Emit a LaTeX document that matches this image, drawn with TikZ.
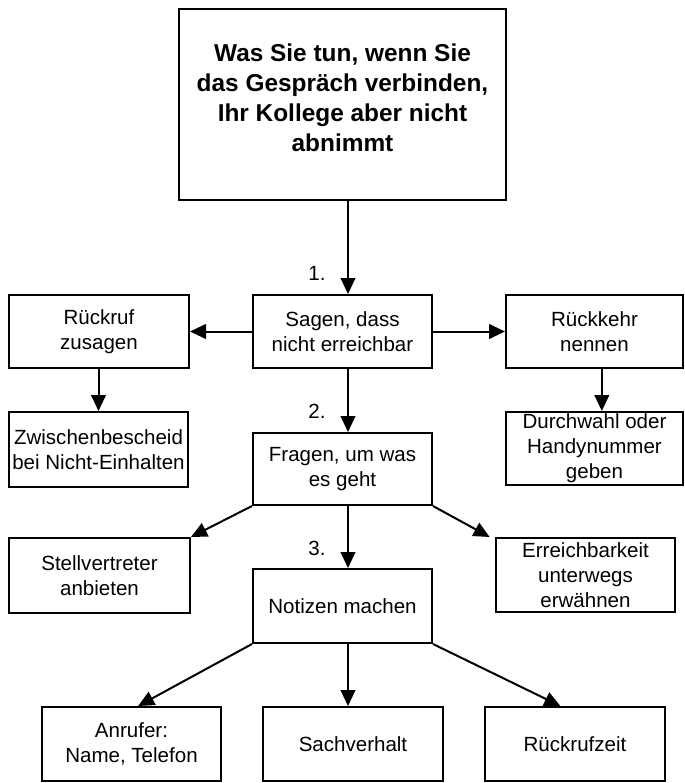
\documentclass[tikz,border=0pt]{standalone}
\usepackage{fontspec}
\setmainfont{Liberation Sans}
\usetikzlibrary{arrows.meta}
\begin{document}
\begin{tikzpicture}[x=0.75pt,y=-0.75pt,
  box/.style={draw, line width=1.5pt, rectangle, inner sep=0pt, align=center,
    font=\fontsize{15.4}{18.8}\selectfont},
  titlebox/.style={box, font=\fontsize{18.3}{22.5}\selectfont\bfseries},
  arr/.style={line width=1.5pt, -{Triangle[length=12pt,width=11pt]}},
  numlbl/.style={font=\fontsize{15.4}{18.8}\selectfont, inner sep=0pt}]
\useasboundingbox (0,0) rectangle (685,783);
\fill[white] (0,0) rectangle (685,783);

\node[titlebox, minimum width=245.25pt, minimum height=143.25pt] (top) at (342.5,104.5)
  {Was Sie tun, wenn Sie\\das Gespräch verbinden,\\Ihr Kollege aber nicht\\abnimmt\\[-12pt]\mbox{}};

\node[box, minimum width=134.25pt, minimum height=54.75pt] (sagen) at (342.5,331.5)
  {Sagen, dass\\nicht erreichbar};
\node[box, minimum width=135pt, minimum height=54.75pt] (rueckruf) at (99,331.5)
  {Rückruf\\zusagen};
\node[box, minimum width=132.75pt, minimum height=54.75pt] (rueckkehr) at (594.5,331.5)
  {Rückkehr\\nennen};
\node[box, minimum width=134.25pt, minimum height=56.25pt] (zwischen) at (98.5,449.5)
  {Zwischenbescheid\\bei Nicht-Einhalten};
\node[box, minimum width=132.75pt, minimum height=54.75pt] (durchwahl) at (594.5,448.5)
  {Durchwahl oder\\Handynummer\\geben};
\node[box, minimum width=134.25pt, minimum height=54pt] (fragen) at (342.5,469)
  {Fragen, um was\\es geht};
\node[box, minimum width=135.75pt, minimum height=56.25pt] (stell) at (99.5,575.5)
  {Stellvertreter\\anbieten};
\node[box, minimum width=134.25pt, minimum height=55.5pt] (erreich) at (585.5,575)
  {Erreichbarkeit\\unterwegs\\erwähnen};
\node[box, minimum width=134.25pt, minimum height=55.5pt] (notizen) at (342.5,606)
  {Notizen machen};
\node[box, minimum width=134.25pt, minimum height=55.5pt] (anrufer) at (131.5,744)
  {Anrufer:\\Name, Telefon};
\node[box, minimum width=135pt, minimum height=55.5pt] (sach) at (353,744)
  {Sachverhalt};
\node[box, minimum width=135pt, minimum height=55.5pt] (rueckzeit) at (575,744)
  {Rückrufzeit};

\node[numlbl] (n1) at (317,273) {1.};
\node[numlbl] (n2) at (317,411) {2.};
\node[numlbl] (n3) at (317,548) {3.};

\coordinate (ax) at (348,0);

\draw[arr] (top.south -| ax) -- (sagen.north -| ax);
\draw[arr] (sagen.south -| ax) -- (fragen.north -| ax);
\draw[arr] (fragen.south -| ax) -- (notizen.north -| ax);
\draw[arr] (notizen.south -| ax) -- (sach.north -| ax);

\draw[arr] (sagen.west) -- (rueckruf.east);
\draw[arr] (sagen.east) -- (rueckkehr.west);
\draw[arr] (rueckruf.south -| zwischen.north) -- (zwischen.north);
\draw[arr] ([xshift=5.5pt]rueckkehr.south) -- ([xshift=5.5pt]durchwahl.north);

\draw[arr] (fragen.south west) -- (stell.north east);
\draw[arr] (fragen.south east) -- ([xshift=-4pt]erreich.north west);
\draw[arr] (notizen.south west) -- ([xshift=5pt]anrufer.north);
\draw[arr] (notizen.south east) -- ([xshift=-11pt]rueckzeit.north);
\end{tikzpicture}
\end{document}
